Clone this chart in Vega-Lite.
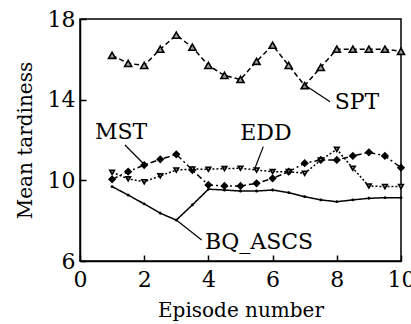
{
  "$schema": "https://vega.github.io/schema/vega-lite/v6.json",
  "width": 321,
  "height": 242,
  "autosize": {"type": "none"},
  "padding": {"left": 80, "top": 19, "right": 10, "bottom": 63},
  "config": {
    "font": "DejaVu Serif",
    "view": {"stroke": "black", "strokeWidth": 1.5},
    "axis": {"grid": false, "domainColor": "black", "domainWidth": 1.5, "tickColor": "black", "tickWidth": 1.5, "labelColor": "black", "titleColor": "black", "labelFont": "DejaVu Serif", "titleFont": "DejaVu Serif", "titleFontWeight": "normal"}
  },
  "datasets": {
    "series": [
      {"series": "SPT", "episode": 1, "value": 16.2},
      {"series": "SPT", "episode": 1.5, "value": 15.8},
      {"series": "SPT", "episode": 2, "value": 15.7},
      {"series": "SPT", "episode": 2.5, "value": 16.5},
      {"series": "SPT", "episode": 3, "value": 17.2},
      {"series": "SPT", "episode": 3.5, "value": 16.6},
      {"series": "SPT", "episode": 4, "value": 15.7},
      {"series": "SPT", "episode": 4.5, "value": 15.2},
      {"series": "SPT", "episode": 5, "value": 15.0},
      {"series": "SPT", "episode": 5.5, "value": 15.9},
      {"series": "SPT", "episode": 6, "value": 16.7},
      {"series": "SPT", "episode": 6.5, "value": 15.7},
      {"series": "SPT", "episode": 7, "value": 14.7},
      {"series": "SPT", "episode": 7.5, "value": 15.6},
      {"series": "SPT", "episode": 8, "value": 16.5},
      {"series": "SPT", "episode": 8.5, "value": 16.5},
      {"series": "SPT", "episode": 9, "value": 16.5},
      {"series": "SPT", "episode": 9.5, "value": 16.5},
      {"series": "SPT", "episode": 10, "value": 16.4},
      {"series": "MST", "episode": 1, "value": 10.05},
      {"series": "MST", "episode": 1.5, "value": 10.43},
      {"series": "MST", "episode": 2, "value": 10.76},
      {"series": "MST", "episode": 2.5, "value": 11.04},
      {"series": "MST", "episode": 3, "value": 11.29},
      {"series": "MST", "episode": 3.5, "value": 10.51},
      {"series": "MST", "episode": 4, "value": 9.77},
      {"series": "MST", "episode": 4.5, "value": 9.72},
      {"series": "MST", "episode": 5, "value": 9.72},
      {"series": "MST", "episode": 5.5, "value": 9.85},
      {"series": "MST", "episode": 6, "value": 10.1},
      {"series": "MST", "episode": 6.5, "value": 10.43},
      {"series": "MST", "episode": 7, "value": 10.85},
      {"series": "MST", "episode": 7.5, "value": 11.01},
      {"series": "MST", "episode": 8, "value": 11.01},
      {"series": "MST", "episode": 8.5, "value": 11.21},
      {"series": "MST", "episode": 9, "value": 11.39},
      {"series": "MST", "episode": 9.5, "value": 11.21},
      {"series": "MST", "episode": 10, "value": 10.63},
      {"series": "EDD", "episode": 1, "value": 10.4},
      {"series": "EDD", "episode": 1.5, "value": 10.07},
      {"series": "EDD", "episode": 2, "value": 9.93},
      {"series": "EDD", "episode": 2.5, "value": 10.22},
      {"series": "EDD", "episode": 3, "value": 10.51},
      {"series": "EDD", "episode": 3.5, "value": 10.56},
      {"series": "EDD", "episode": 4, "value": 10.55},
      {"series": "EDD", "episode": 4.5, "value": 10.58},
      {"series": "EDD", "episode": 5, "value": 10.6},
      {"series": "EDD", "episode": 5.5, "value": 10.51},
      {"series": "EDD", "episode": 6, "value": 10.43},
      {"series": "EDD", "episode": 6.5, "value": 10.43},
      {"series": "EDD", "episode": 7, "value": 10.35},
      {"series": "EDD", "episode": 7.5, "value": 11.0},
      {"series": "EDD", "episode": 8, "value": 11.54},
      {"series": "EDD", "episode": 8.5, "value": 10.6},
      {"series": "EDD", "episode": 9, "value": 9.72},
      {"series": "EDD", "episode": 9.5, "value": 9.69},
      {"series": "EDD", "episode": 10, "value": 9.69},
      {"series": "BQ_ASCS", "episode": 1, "value": 9.69},
      {"series": "BQ_ASCS", "episode": 1.5, "value": 9.27},
      {"series": "BQ_ASCS", "episode": 2, "value": 8.83},
      {"series": "BQ_ASCS", "episode": 2.5, "value": 8.37},
      {"series": "BQ_ASCS", "episode": 3, "value": 8.03},
      {"series": "BQ_ASCS", "episode": 3.5, "value": 8.78},
      {"series": "BQ_ASCS", "episode": 4, "value": 9.56},
      {"series": "BQ_ASCS", "episode": 4.5, "value": 9.52},
      {"series": "BQ_ASCS", "episode": 5, "value": 9.47},
      {"series": "BQ_ASCS", "episode": 5.5, "value": 9.47},
      {"series": "BQ_ASCS", "episode": 6, "value": 9.52},
      {"series": "BQ_ASCS", "episode": 6.5, "value": 9.39},
      {"series": "BQ_ASCS", "episode": 7, "value": 9.19},
      {"series": "BQ_ASCS", "episode": 7.5, "value": 9.03},
      {"series": "BQ_ASCS", "episode": 8, "value": 8.94},
      {"series": "BQ_ASCS", "episode": 8.5, "value": 9.03},
      {"series": "BQ_ASCS", "episode": 9, "value": 9.11},
      {"series": "BQ_ASCS", "episode": 9.5, "value": 9.14},
      {"series": "BQ_ASCS", "episode": 10, "value": 9.14}
    ],
    "labels": [
      {"label": "SPT", "x": 8.63, "y": 13.9, "lx": 7.0, "ly": 14.73, "lx2": 7.79, "ly2": 13.9},
      {"label": "MST", "x": 1.28, "y": 12.4, "lx": 1.4, "ly": 11.75, "lx2": 2.02, "ly2": 10.76},
      {"label": "EDD", "x": 5.79, "y": 12.35, "lx": 5.71, "ly": 11.67, "lx2": 5.45, "ly2": 10.6},
      {"label": "BQ_ASCS", "x": 5.58, "y": 6.94, "lx": 3.0, "ly": 8.03, "lx2": 3.79, "ly2": 7.04}
    ]
  },
  "layer": [
    {
      "data": {"name": "series"},
      "mark": {"type": "line", "strokeWidth": 1.5, "color": "black"},
      "encoding": {
        "x": {"field": "episode", "type": "quantitative", "scale": {"domain": [0, 10], "nice": false},
          "axis": {"values": [0, 2, 4, 6, 8, 10], "title": "Episode number", "labelFontSize": 22, "titleFontSize": 20, "tickSize": -6, "labelPadding": 14, "titlePadding": 10, "labelFlush": false}},
        "y": {"field": "value", "type": "quantitative", "scale": {"domain": [6, 18], "nice": false, "zero": false},
          "axis": {"values": [6, 10, 14, 18], "title": "Mean tardiness", "labelFontSize": 22, "titleFontSize": 20, "tickSize": -6, "labelPadding": 11, "titlePadding": 12, "labelFlush": false}},
        "detail": {"field": "series"},
        "strokeDash": {"field": "series", "type": "nominal", "legend": null,
          "scale": {"domain": ["SPT", "MST", "EDD", "BQ_ASCS"], "range": [[5, 3], [6, 3, 2, 3], [2, 2], [1, 0]]}}
      }
    },
    {
      "data": {"name": "series"},
      "mark": {"type": "point", "filled": true, "stroke": "black", "strokeWidth": 1.6, "opacity": 1},
      "encoding": {
        "x": {"field": "episode", "type": "quantitative"},
        "y": {"field": "value", "type": "quantitative"},
        "shape": {"field": "series", "type": "nominal", "legend": null,
          "scale": {"domain": ["SPT", "MST", "EDD", "BQ_ASCS"], "range": ["triangle-up", "diamond", "triangle-down", "M-1,0H1M0,-1V1"]}},
        "fill": {"field": "series", "type": "nominal", "legend": null,
          "scale": {"domain": ["SPT", "MST", "EDD", "BQ_ASCS"], "range": ["#a0a0a0", "black", "#a0a0a0", "black"]}},
        "size": {"field": "series", "type": "nominal", "legend": null,
          "scale": {"domain": ["SPT", "MST", "EDD", "BQ_ASCS"], "range": [50, 8, 50, 36]}}
      }
    },
    {
      "data": {"name": "labels"},
      "mark": {"type": "rule", "color": "black", "strokeWidth": 1.2},
      "encoding": {
        "x": {"field": "lx", "type": "quantitative"},
        "y": {"field": "ly", "type": "quantitative"},
        "x2": {"field": "lx2"},
        "y2": {"field": "ly2"}
      }
    },
    {
      "data": {"name": "labels"},
      "mark": {"type": "text", "font": "DejaVu Serif", "fontSize": 22, "align": "center", "baseline": "middle", "color": "black"},
      "encoding": {
        "x": {"field": "x", "type": "quantitative"},
        "y": {"field": "y", "type": "quantitative"},
        "text": {"field": "label"}
      }
    }
  ]
}
